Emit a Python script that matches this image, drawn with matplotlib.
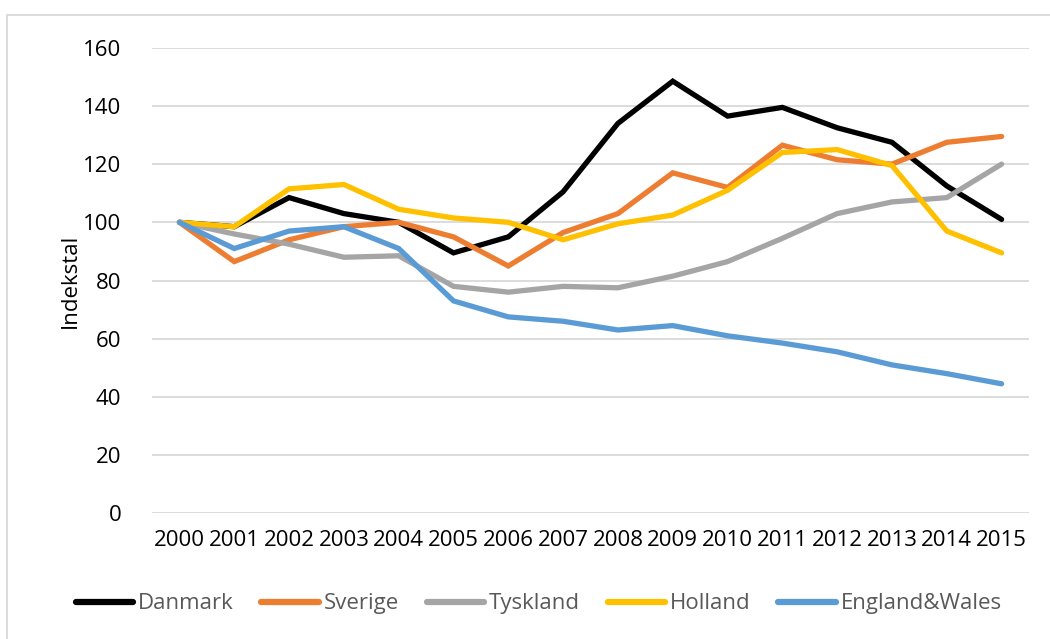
import matplotlib
matplotlib.use('Agg')
import matplotlib.pyplot as plt
from matplotlib.patches import Rectangle

# indekstal, 2000 = 100
years = ['2000', '2001', '2002', '2003', '2004', '2005', '2006', '2007',
         '2008', '2009', '2010', '2011', '2012', '2013', '2014', '2015']
danmark = [100, 98.5, 108.5, 103, 100, 89.5, 95, 110.5, 134, 148.5, 136.5, 139.5, 132.5, 127.5, 112.5, 101]
sverige = [100, 86.5, 94, 98.5, 100, 95, 85, 96.5, 103, 117, 112, 126.5, 121.5, 120, 127.5, 129.5]
tyskland = [100, 96, 92.5, 88, 88.5, 78, 76, 78, 77.5, 81.5, 86.5, 94.5, 103, 107, 108.5, 120]
holland = [100, 98.5, 111.5, 113, 104.5, 101.5, 100, 94, 99.5, 102.5, 111, 124, 125, 119.5, 97, 89.5]
england = [100, 91, 97, 98.5, 91, 73, 67.5, 66, 63, 64.5, 61, 58.5, 55.5, 51, 48, 44.5]

series = [('Danmark', danmark, '#000000'),
          ('Sverige', sverige, '#ED7D31'),
          ('Tyskland', tyskland, '#A5A5A5'),
          ('Holland', holland, '#FFC000'),
          ('England&Wales', england, '#5B9BD5')]

plt.rcParams['font.family'] = ['Open Sans', 'DejaVu Sans']

fig = plt.figure(figsize=(10.5, 6.39), dpi=100)
ax = fig.add_axes([0.1448, 0.1967, 0.98 - 0.1448, 0.9253 - 0.1967])

x = list(range(len(years)))
for name, vals, col in series:
    ax.plot(x, vals, color=col, lw=3.8, solid_capstyle='round', solid_joinstyle='miter', label=name)

ax.set_xlim(-0.5, 15.5)
ax.set_ylim(0, 160)
ax.set_yticks(range(0, 161, 20))
ax.set_xticks(x)
ax.set_xticklabels(years)
ax.tick_params(length=0, labelsize=16, pad=12)
ax.tick_params(axis='y', pad=22)
ax.grid(axis='y', color='#D9D9D9', lw=1.3)
ax.set_axisbelow(True)
for s in ax.spines.values():
    s.set_visible(False)
ax.set_ylabel('Indekstal', fontsize=16, labelpad=2)

leg = fig.legend(loc='center', bbox_to_anchor=(0.513, 0.055), ncol=5, frameon=False,
                 fontsize=16, handlelength=2.6, handletextpad=0.2, columnspacing=1.25)
for t in leg.get_texts():
    t.set_color('#595959')
for h in leg.get_lines():
    h.set_linewidth(4.5)

# chart border
fig.patches.append(Rectangle((7 / 1050, -0.05), 1.1, 0.9765 + 0.05, transform=fig.transFigure,
                             fill=False, edgecolor='#D9D9D9', lw=1.3))

fig.savefig('out.png', dpi=100)
